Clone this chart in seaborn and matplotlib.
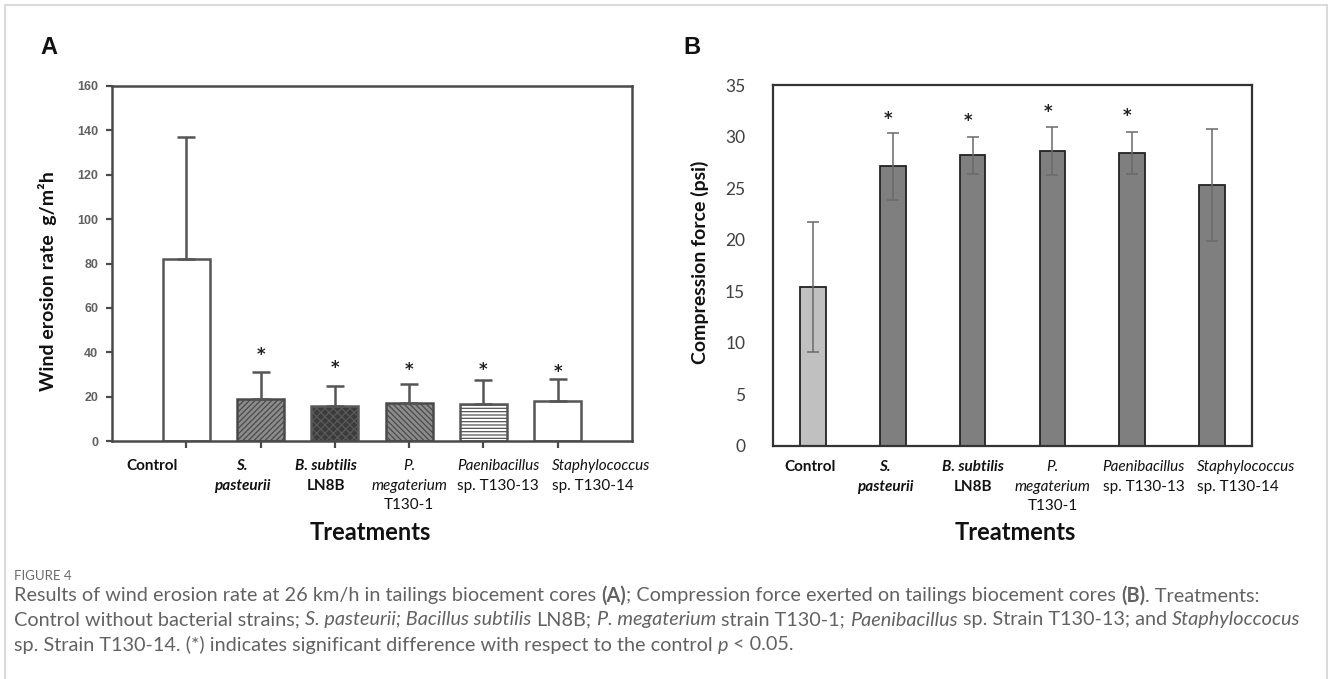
import matplotlib
matplotlib.use("Agg")
import matplotlib.pyplot as plt
import seaborn as sns
import numpy as np
import pandas as pd
from matplotlib.lines import Line2D

# ---------------- data ----------------
categories = ["Control", "S. pasteurii", "B. subtilis LN8B", "P. megaterium T130-1",
              "Paenibacillus sp. T130-13", "Staphylococcus sp. T130-14"]
erosion_mean = [82.0, 19.0, 15.8, 17.1, 16.7, 18.0]
erosion_sd = [55.0, 12.1, 9.0, 8.6, 10.8, 9.9]
erosion_star = [np.nan, 38.7, 32.9, 32.0, 32.0, 31.0]

compression_mean = [15.4, 27.1, 28.2, 28.6, 28.4, 25.3]
compression_sd = [6.3, 3.25, 1.8, 2.3, 2.0, 5.4]
compression_star = [np.nan, 31.7, 31.5, 32.4, 32.0, np.nan]

erosion_ticks = [0, 20, 40, 60, 80, 100, 120, 140, 160]
compression_ticks = [0, 5, 10, 15, 20, 25, 30, 35]

tick_label_lines = [["Control"], ["S.", "pasteurii"], ["B. subtilis", "LN8B"],
                    ["P.", "megaterium", "T130-1"], ["Paenibacillus", "sp. T130-13"],
                    ["Staphylococcus", "sp. T130-14"]]

# ---------------- style ----------------
sns.set_style("white")
plt.rcParams['font.family'] = ['Lato', 'DejaVu Sans']
plt.rcParams['hatch.linewidth'] = 0.9

W, H = 1328, 679
fig = plt.figure(figsize=(W / 100, H / 100), dpi=100)


def fx(px):
    return px / W


def fy(py):
    return 1 - py / H


# frame
for (x0, y0, x1, y1) in [(4.5, 5, 4.5, 679), (4.5, 5, 1326.5, 5), (1326.5, 5, 1326.5, 679)]:
    fig.add_artist(Line2D([fx(x0), fx(x1)], [fy(y0), fy(y1)], color="#d4d4d4", lw=1.2))

label_styles = [[("bold", "normal")], [("bold", "italic"), ("bold", "italic")],
                [("bold", "italic"), ("bold", "normal")],
                [("normal", "italic"), ("normal", "italic"), ("normal", "normal")],
                [("normal", "italic"), ("normal", "normal")],
                [("normal", "italic"), ("normal", "normal")]]


def draw_tick_labels(ax, offsets, aligns, line_px, size):
    for i, lines in enumerate(tick_label_lines):
        for j, line in enumerate(lines):
            w, s = label_styles[i][j]
            ax.annotate(line, xy=(i + offsets[i], 0), xycoords=("data", "axes fraction"),
                        xytext=(0, -line_px[j]), textcoords="offset pixels",
                        ha=aligns[i], va="center", fontsize=size, fontweight=w,
                        fontstyle=s, color="#111111", annotation_clip=False)


# ---------------- panel A ----------------
axA = fig.add_axes([fx(112), fy(441), fx(632) - fx(112), fy(86) - fy(441)])
dfA = pd.DataFrame({"cat": categories, "val": erosion_mean})
fillsA = ["#ffffff", "#8c8c8c", "#3c3c3c", "#8c8c8c", "#ffffff", "#ffffff"]
sns.barplot(data=dfA, x="cat", y="val", hue="cat", palette=fillsA, width=0.63,
            ax=axA, legend=False, errorbar=None, saturation=1)
hatchesA = [None, "//////", "xxxx", "\\\\\\\\\\\\", "-----", None]
edgesA = ["#555555", "#4a4a4a", "#5a5a5a", "#4a4a4a", "#555555", "#555555"]
for p, h, e in zip(axA.patches, hatchesA, edgesA):
    p.set_edgecolor(e)
    p.set_linewidth(1.8)
    if h:
        p.set_hatch(h)
axA.errorbar(np.arange(len(categories)), erosion_mean,
             yerr=[np.zeros(len(categories)), erosion_sd], fmt="none",
             ecolor="#555555", elinewidth=1.8, capsize=6.5, capthick=1.8, zorder=1)
for i, s in enumerate(erosion_star):
    if not np.isnan(s):
        axA.text(i, s, "*", ha="center", va="center", fontsize=12,
                 fontweight="bold", color="#222222", family="DejaVu Sans")
axA.set_xlim(-1, 6)
axA.set_ylim(0, 160)
axA.set_yticks(erosion_ticks)
axA.set_yticklabels([str(t) for t in erosion_ticks], family="Liberation Sans",
                    fontweight="bold", fontsize=9, color="#606060")
axA.set_xticks(range(len(categories)))
axA.set_xticklabels([""] * len(categories))
axA.set_xlabel("")
axA.set_ylabel("")
axA.tick_params(axis="y", direction="out", length=4, width=1.6, color="#4a4a4a",
                pad=6, left=True)
axA.tick_params(axis="x", direction="out", length=5, width=1.6, color="#4a4a4a",
                bottom=True)
for sp in axA.spines.values():
    sp.set_visible(True)
    sp.set_color("#4a4a4a")
    sp.set_linewidth(1.8)
draw_tick_labels(axA, [-0.46, -0.25, -0.12, 0.0, -0.35, -0.08],
                 ["center", "center", "center", "center", "left", "left"],
                 [25, 45, 64], 11)

fig.text(fx(48), fy(281), "Wind erosion rate  g/m²h", rotation=90, ha="center",
         va="center", fontsize=14, fontweight="bold", color="#111111")
fig.text(fx(370), fy(533), "Treatments", ha="center", va="center", fontsize=17,
         fontweight="bold", color="#111111")
fig.text(fx(49), fy(48), "A", ha="center", va="center", fontsize=17,
         fontweight="bold", family="Liberation Sans", color="#111111")

# ---------------- panel B ----------------
axB = fig.add_axes([fx(773), fy(446), fx(1252) - fx(773), fy(85) - fy(446)])
dfB = pd.DataFrame({"cat": categories, "val": compression_mean})
fillsB = ["#c0c0c0"] + ["#7f7f7f"] * 5
sns.barplot(data=dfB, x="cat", y="val", hue="cat", palette=fillsB, width=0.32,
            ax=axB, legend=False, errorbar=None, saturation=1)
for p in axB.patches:
    p.set_edgecolor("#222222")
    p.set_linewidth(1.3)
axB.errorbar(np.arange(len(categories)), compression_mean, yerr=compression_sd,
             fmt="none", ecolor="#6a6a6a", elinewidth=1.1, capsize=4.5,
             capthick=1.1, zorder=5)
for i, s in enumerate(compression_star):
    if not np.isnan(s):
        axB.text(i - 0.06, s, "*", ha="center", va="center", fontsize=12,
                 fontweight="bold", color="#222222", family="DejaVu Sans")
axB.set_xlim(-0.5, 5.5)
axB.set_ylim(0, 35)
axB.set_yticks(compression_ticks)
axB.set_yticklabels([str(t) for t in compression_ticks], fontsize=12.5,
                    color="#404040")
axB.set_xticks(range(len(categories)))
axB.set_xticklabels([""] * len(categories))
axB.set_xlabel("")
axB.set_ylabel("")
axB.tick_params(axis="both", length=0, pad=20)
for sp in axB.spines.values():
    sp.set_visible(True)
    sp.set_color("#333333")
    sp.set_linewidth(1.6)
draw_tick_labels(axB, [-0.04, -0.1, 0.0, 0.0, -0.37, -0.19],
                 ["center", "center", "center", "center", "left", "left"],
                 [21, 41, 60], 11)

fig.text(fx(700), fy(262), "Compression force (psi)", rotation=90, ha="center",
         va="center", fontsize=14, fontweight="bold", color="#111111")
fig.text(fx(1015), fy(532), "Treatments", ha="center", va="center", fontsize=17,
         fontweight="bold", color="#111111")
fig.text(fx(692), fy(48), "B", ha="center", va="center", fontsize=17,
         fontweight="bold", family="Liberation Sans", color="#111111")

# ---------------- caption ----------------
renderer = fig.canvas.get_renderer()
CAP_FONT = "Lato"
CAP_COLOR = "#626262"


def seg_width(txt, weight, style, size):
    kw = dict(fontsize=size, fontweight=weight, fontstyle=style, family=CAP_FONT)
    t1 = fig.text(0, 0, "|" + txt + "|", **kw)
    t2 = fig.text(0, 0, "||", **kw)
    w = t1.get_window_extent(renderer).width - t2.get_window_extent(renderer).width
    t1.remove()
    t2.remove()
    return w


n, b, it = ("normal", "normal"), ("bold", "normal"), ("normal", "italic")
cap_lines = [
    [("Results of wind erosion rate at 26 km/h in tailings biocement cores ", n),
     ("(A)", b), ("; Compression force exerted on tailings biocement cores ", n),
     ("(B)", b), (". Treatments:", n)],
    [("Control without bacterial strains; ", n), ("S. pasteurii; Bacillus subtilis", it),
     (" LN8B; ", n), ("P. megaterium", it), (" strain T130-1; ", n),
     ("Paenibacillus", it), (" sp. Strain T130-13; and ", n), ("Staphyloccocus", it)],
    [("sp. Strain T130-14. (*) indicates significant difference with respect to the control ", n),
     ("p", it), (" < 0.05.", n)],
]

base = 12.0
w1 = sum(seg_width(t, s[0], s[1], base) for t, s in cap_lines[0])
w2 = sum(seg_width(t, s[0], s[1], base) for t, s in cap_lines[1])
cap_size = min(base * 1266.0 / w1, base * 1281.0 / w2)

for line, ypx in zip(cap_lines, [596, 620, 645]):
    x = 14.0
    for txt, (wt, st) in line:
        full = seg_width(txt, wt, st, cap_size)
        stripped = txt.strip()
        lead = len(txt) - len(txt.lstrip())
        xoff = seg_width(txt[:lead], wt, st, cap_size) if lead else 0.0
        fig.text(fx(x + xoff), fy(ypx), stripped, ha="left", va="center",
                 fontsize=cap_size, fontweight=wt, fontstyle=st, family=CAP_FONT,
                 color=CAP_COLOR)
        x += full

fig.text(fx(14), fy(576), "FIGURE 4", ha="left", va="center", fontsize=9.5,
         family=CAP_FONT, color="#6a6a6a")

fig.savefig("out.png", dpi=100)
